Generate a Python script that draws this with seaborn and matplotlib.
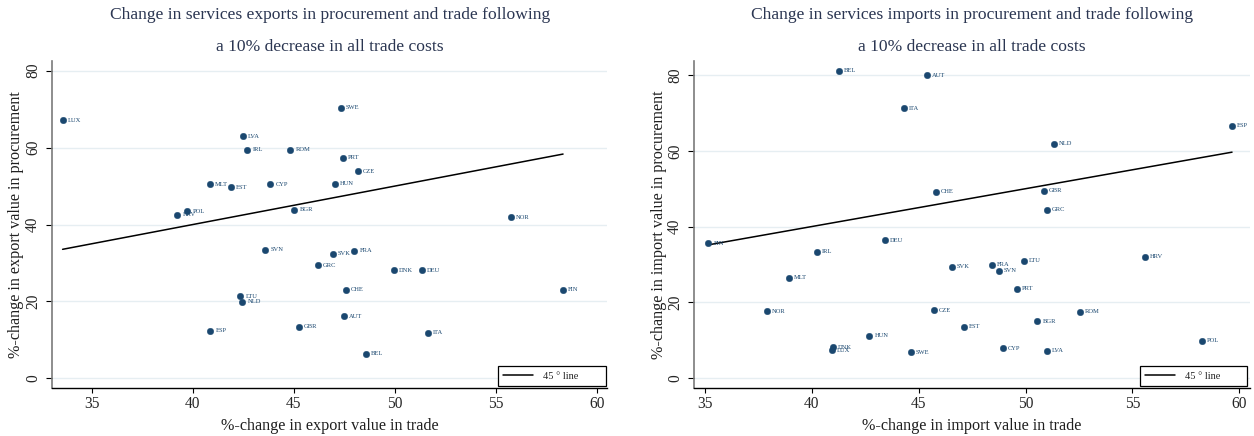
import numpy as np
import pandas as pd
import matplotlib
matplotlib.use("Agg")
import matplotlib.pyplot as plt
import seaborn as sns

# ---- data: exports (left panel) ----
exp_countries = ["LUX", "LVA", "IRL", "ROM", "MLT", "EST", "CYP", "HUN", "POL", "HRV",
                 "BGR", "SVN", "SVK", "SWE", "PRT", "CZE", "NOR", "FRA", "GRC", "LTU",
                 "NLD", "ESP", "GBR", "DNK", "DEU", "CHE", "FIN", "AUT", "ITA", "BEL"]
exp_trade = [33.56, 42.49, 42.70, 44.83, 40.84, 41.88, 43.84, 47.04, 39.73, 39.24,
             45.03, 43.59, 46.93, 47.33, 47.41, 48.17, 55.74, 48.00, 46.20, 42.36,
             42.46, 40.87, 45.25, 49.97, 51.35, 47.59, 58.32, 47.46, 51.65, 48.56]
exp_proc = [67.1, 62.9, 59.5, 59.5, 50.5, 49.7, 50.5, 50.6, 43.5, 42.5,
            43.9, 33.5, 32.4, 70.4, 57.3, 53.8, 41.95, 33.2, 29.4, 21.3,
            19.9, 12.4, 13.4, 28.1, 28.1, 23.0, 23.0, 16.2, 11.9, 6.4]

# ---- data: imports (right panel) ----
imp_countries = ["BEL", "AUT", "ITA", "CHE", "FIN", "DEU", "IRL", "ESP", "NLD", "GBR",
                 "GRC", "SVK", "MLT", "NOR", "CZE", "EST", "HUN", "DNK", "LUX", "SWE",
                 "FRA", "SVN", "LTU", "HRV", "PRT", "ROM", "BGR", "CYP", "LVA", "POL"]
imp_trade = [41.27, 45.37, 44.31, 45.80, 35.16, 43.42, 40.25, 59.66, 51.33, 50.85,
             51.00, 46.54, 38.94, 37.89, 45.72, 47.11, 42.69, 41.00, 40.94, 44.63,
             48.42, 48.74, 49.93, 55.58, 49.61, 52.55, 50.55, 48.93, 50.99, 58.26]
imp_proc = [81.2, 80.0, 71.3, 49.2, 35.6, 36.4, 33.3, 66.7, 61.9, 49.5,
            44.4, 29.4, 26.4, 17.6, 17.8, 13.5, 11.1, 8.1, 7.3, 6.7,
            29.9, 28.3, 31.0, 32.0, 23.6, 17.5, 15.0, 7.8, 7.2, 9.8]

x_ticks = [35, 40, 45, 50, 55, 60]
y_ticks = [0, 20, 40, 60, 80]

titles = [("Change in services exports in procurement and trade following",
           "a 10% decrease in all trade costs"),
          ("Change in services imports in procurement and trade following",
           "a 10% decrease in all trade costs")]
xlabels = ["%-change in export value in trade", "%-change in import value in trade"]
ylabels = ["%-change in export value in procurement", "%-change in import value in procurement"]
legend_label = "45 ° line"

sns.set_theme(style="white")
plt.rcParams["font.family"] = ["Liberation Serif", "DejaVu Serif"]

NAVY = "#1a476f"
GRID = "#e6eef2"
TITLE_C = "#2b3652"

fig = plt.figure(figsize=(12.54, 4.36), dpi=100)
ax_pos = [[0.0417, 0.110, 0.4426, 0.750],
          [0.5537, 0.110, 0.4431, 0.750]]
xlims = [(33.05, 60.51), (34.5, 60.5)]
ylims = [(-2.5, 82.5), (-2.7, 83.75)]
leg_boxes = [(0.803, 0.006, 0.195, 0.067), (0.802, 0.006, 0.193, 0.067)]

panels = [(exp_countries, exp_trade, exp_proc), (imp_countries, imp_trade, imp_proc)]

for i, (ctry, tx, py) in enumerate(panels):
    ax = fig.add_axes(ax_pos[i])
    df = pd.DataFrame({"country": ctry, "trade": tx, "proc": py})
    ax.set_xlim(*xlims[i])
    ax.set_ylim(*ylims[i])
    ax.set_yticks(y_ticks)
    ax.set_xticks(x_ticks)
    ax.grid(axis="y", color=GRID, linewidth=1.0)
    ax.grid(axis="x", visible=False)
    ax.set_axisbelow(True)

    sns.scatterplot(data=df, x="trade", y="proc", ax=ax, color=NAVY, s=22,
                    edgecolor=NAVY, linewidth=0.3, zorder=3, legend=False)
    for c, xv, yv in zip(df["country"], df["trade"], df["proc"]):
        ax.annotate(c, (xv, yv), xytext=(3.6, 0), textcoords="offset points",
                    va="center", ha="left", fontsize=4.7, color=NAVY, zorder=4)

    xmin, xmax = df["trade"].min(), df["trade"].max()
    ax.plot([xmin, xmax], [xmin, xmax], color="black", linewidth=1.1,
            label=legend_label, zorder=2)

    for side in ["top", "right"]:
        ax.spines[side].set_visible(False)
    ax.spines["left"].set_color("#7a7a7a")
    ax.spines["left"].set_linewidth(1.2)
    ax.spines["bottom"].set_color("black")
    ax.spines["bottom"].set_linewidth(1.0)

    ax.tick_params(axis="y", direction="out", length=4, width=0.8, color="black",
                   labelsize=11.2, pad=4, left=True)
    ax.tick_params(axis="x", direction="out", length=3.5, width=0.8, color="black",
                   labelsize=11.2, pad=2.5, bottom=True)
    for lab in ax.get_yticklabels():
        lab.set_rotation(90)
        lab.set_va("center")

    ax.set_xlabel(xlabels[i], fontsize=11.6, labelpad=4, color="#1f1f1f")
    ax.set_ylabel(ylabels[i], fontsize=11.6, labelpad=0.5, color="#1f1f1f")

    ax.text(0.5, 1.141, titles[i][0], transform=ax.transAxes, ha="center",
            va="center", fontsize=12.6, color=TITLE_C)
    ax.text(0.5, 1.043, titles[i][1], transform=ax.transAxes, ha="center",
            va="center", fontsize=12.6, color=TITLE_C)

    leg = ax.legend(loc="lower left", bbox_to_anchor=leg_boxes[i], mode="expand",
                    fontsize=7.5, frameon=True, fancybox=False,
                    edgecolor="black", framealpha=1, borderaxespad=0,
                    handlelength=2.9, handletextpad=0.9, borderpad=0.5)
    leg.get_frame().set_linewidth(0.9)
    leg.set_zorder(5)

fig.savefig("out.png", dpi=100, facecolor="white")
